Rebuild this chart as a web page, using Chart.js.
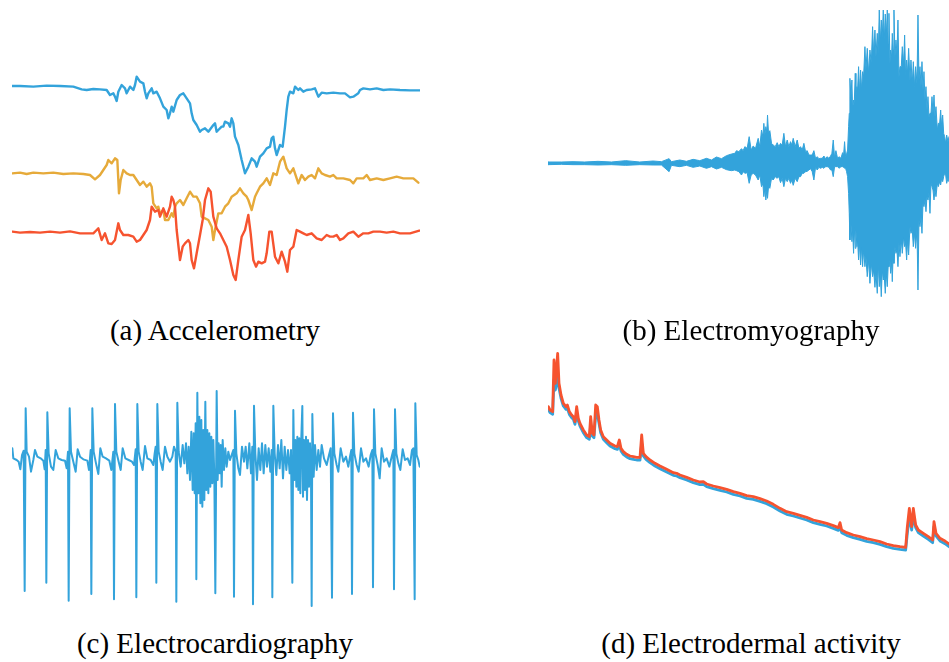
<!DOCTYPE html>
<html>
<head>
<meta charset="utf-8">
<script src="https://cdn.jsdelivr.net/npm/chart.js@4/dist/chart.umd.min.js"></script>
<style>
  html, body { margin: 0; padding: 0; background: #fff; }
  body { width: 949px; height: 662px; position: relative; overflow: hidden; }
  canvas { position: absolute; }
  .cap {
    position: absolute; width: 420px; text-align: center;
    font-family: "Liberation Serif", "Times New Roman", serif;
    font-size: 29px; line-height: 29px; color: #000; white-space: nowrap;
  }
</style>
</head>
<body>
<canvas id="acc" width="408" height="240" style="left:12px;top:60px"></canvas>
<canvas id="emg" width="401" height="310" style="left:548px;top:0px"></canvas>
<canvas id="ecg" width="408" height="225" style="left:12px;top:390px"></canvas>
<canvas id="eda" width="401" height="220" style="left:548px;top:340px"></canvas>

<div class="cap" style="left:5px;top:316px">(a) Accelerometry</div>
<div class="cap" style="left:541px;top:316px">(b) Electromyography</div>
<div class="cap" style="left:5px;top:629px">(c) Electrocardiography</div>
<div class="cap" style="left:541px;top:629px">(d) Electrodermal activity</div>

<script>
// ---- Accelerometry: three axes, [sample, raw counts] ----
const accAxisX = [[0,522],[23,522],[63,520],[103,523],[143,522],[183,520],[208,512],[223,510],[243,513],[263,512],[283,510],[293,495],[303,500],[308,490],[313,477],[318,505],[328,525],[338,515],[343,500],[353,520],[363,510],[368,525],[373,550],[383,535],[393,530],[398,505],[403,485],[408,500],[418,515],[423,500],[433,505],[443,485],[453,460],[463,450],[468,425],[473,440],[478,460],[483,445],[493,480],[503,495],[513,500],[523,485],[533,470],[538,440],[543,420],[553,405],[563,385],[568,390],[578,395],[588,385],[603,405],[608,410],[613,385],[618,390],[628,400],[633,400],[638,415],[648,410],[653,400],[658,425],[663,410],[668,370],[678,345],[688,300],[698,260],[708,280],[718,305],[728,295],[733,280],[743,310],[753,320],[763,335],[773,340],[778,365],[783,370],[788,335],[793,315],[803,345],[811,340],[818,400],[823,450],[828,490],[833,505],[843,500],[848,520],[858,510],[863,515],[873,505],[883,510],[898,512],[908,515],[918,490],[928,502],[943,500],[963,502],[983,500],[998,500],[1013,488],[1023,490],[1038,500],[1043,510],[1053,515],[1073,512],[1093,515],[1113,510],[1133,512],[1163,510],[1193,509],[1223,509]];
const accAxisY = [[0,260],[23,262],[43,258],[63,262],[93,260],[123,262],[153,258],[183,260],[213,258],[233,255],[248,242],[263,255],[273,270],[283,285],[288,300],[298,290],[308,305],[315,300],[320,200],[325,240],[333,270],[343,260],[353,255],[363,255],[373,240],[383,225],[393,235],[403,220],[413,230],[418,220],[423,170],[433,155],[438,160],[443,140],[453,150],[458,120],[468,120],[478,140],[483,130],[488,160],[493,170],[503,180],[513,165],[523,185],[533,205],[543,190],[553,190],[563,170],[568,130],[578,125],[588,120],[598,100],[603,60],[608,90],[618,140],[628,140],[638,160],[648,170],[658,190],[673,200],[683,215],[693,200],[703,190],[708,180],[718,150],[728,190],[733,200],[743,220],[753,230],[763,245],[773,225],[783,260],[793,255],[803,295],[813,310],[823,275],[833,260],[843,275],[853,245],[858,230],[868,255],[878,240],[888,250],[898,255],[908,245],[918,275],[928,260],[938,255],[953,250],[963,255],[973,245],[993,245],[1013,240],[1023,230],[1033,245],[1053,245],[1063,255],[1073,240],[1093,245],[1113,240],[1133,245],[1153,250],[1173,245],[1203,245],[1218,232]];
const accAxisZ = [[0,85],[23,82],[53,84],[83,82],[113,85],[143,82],[173,86],[203,80],[243,80],[253,90],[258,95],[268,60],[278,80],[288,50],[298,48],[308,60],[318,110],[323,90],[333,75],[348,75],[363,70],[373,55],[383,60],[393,75],[403,90],[413,120],[418,160],[428,145],[438,150],[443,130],[453,155],[463,130],[473,160],[478,190],[483,180],[488,160],[493,90],[503,0],[511,40],[518,50],[528,60],[533,50],[538,0],[545,-25],[553,20],[563,75],[571,120],[578,180],[588,215],[595,205],[603,130],[613,95],[623,80],[633,60],[643,40],[653,0],[663,-45],[670,-60],[678,0],[688,70],[698,90],[708,135],[715,80],[723,0],[731,-20],[738,-5],[748,-10],[758,-5],[763,20],[771,85],[778,85],[788,10],[798,-10],[808,25],[818,-5],[825,-35],[833,30],[843,40],[853,90],[863,85],[873,80],[883,75],[898,80],[913,65],[928,60],[943,75],[953,70],[963,70],[973,75],[983,60],[993,65],[1008,80],[1023,85],[1038,70],[1053,80],[1068,80],[1083,85],[1103,85],[1123,82],[1143,85],[1163,80],[1193,80],[1221,88]];

// ---- Electromyography: [sample, bin maximum, bin minimum] in µV ----
const emgEnvelope = [[0,4,-4],[40,4,-3],[75,5,-4],[110,4,-4],[150,6,-5],[190,4,-4],[233,8,-6],[275,4,-4],[315,7,-5],[340,5,-5],[363,14,-25],[370,5,-6],[395,10,-10],[415,6,-6],[435,12,-12],[455,8,-8],[475,15,-15],[490,10,-10],[505,19,-17],[520,14,-12],[535,23,-19],[550,28,-22],[560,30,-20],[565,38,-22],[572,35,-25],[580,44,-35],[585,38,-25],[590,50,-30],[597,45,-28],[603,80,-60],[609,40,-35],[615,52,-30],[622,45,-35],[630,75,-50],[635,50,-35],[640,100,-70],[644,80,-60],[647,120,-100],[650,85,-75],[653,110,-110],[656,95,-80],[658,145,-105],[661,90,-70],[665,98,-75],[670,60,-45],[675,55,-50],[681,50,-40],[687,62,-45],[692,50,-40],[697,60,-58],[702,55,-45],[707,90,-70],[712,50,-45],[717,70,-55],[722,50,-45],[727,65,-60],[731,55,-50],[735,75,-66],[741,50,-45],[747,70,-55],[752,45,-40],[757,50,-40],[762,40,-30],[767,60,-30],[772,35,-25],[777,38,-24],[782,25,-20],[787,25,-16],[792,25,-25],[797,38,-50],[802,15,-12],[807,20,-20],[812,14,-12],[817,15,-15],[822,15,-12],[827,22,-15],[832,14,-10],[837,20,-10],[842,15,-12],[847,22,-20],[851,30,-20],[855,70,-40],[859,18,-10],[863,38,-10],[868,15,-10],[873,20,-15],[878,15,-10],[883,32,-10],[886,25,-12],[889,65,-15],[892,20,-15],[895,28,-25],[898,40,-40],[901,110,-90],[903,150,-150],[905,255,-230],[908,200,-180],[911,250,-235],[913,160,-200],[916,190,-270],[918,180,-190],[921,270,-255],[923,200,-200],[926,230,-250],[928,220,-230],[931,290,-290],[934,210,-240],[937,280,-305],[940,220,-250],[943,275,-310],[946,260,-260],[950,350,-310],[953,280,-280],[957,345,-340],[961,270,-290],[965,340,-360],[969,300,-300],[973,410,-340],[976,330,-320],[980,400,-372],[983,320,-330],[987,390,-390],[990,330,-300],[993,460,-370],[996,360,-330],[999,430,-400],[1002,380,-320],[1005,460,-350],[1008,370,-340],[1011,448,-390],[1014,380,-330],[1017,460,-370],[1020,360,-300],[1022,450,-310],[1025,300,-290],[1027,340,-330],[1030,320,-300],[1032,390,-355],[1035,340,-260],[1037,460,-300],[1040,320,-250],[1043,370,-270],[1046,330,-260],[1049,430,-310],[1052,260,-240],[1055,290,-280],[1059,290,-230],[1062,350,-270],[1066,300,-220],[1069,385,-250],[1072,260,-240],[1075,310,-290],[1078,270,-230],[1081,345,-275],[1085,250,-190],[1088,310,-210],[1092,240,-200],[1095,305,-250],[1099,230,-210],[1102,290,-255],[1106,240,-200],[1109,445,-380],[1112,250,-170],[1115,290,-190],[1118,230,-160],[1121,305,-210],[1124,220,-120],[1127,275,-130],[1130,190,-110],[1133,230,-145],[1136,160,-100],[1139,200,-110],[1142,140,-90],[1145,150,-150],[1148,150,-60],[1151,200,-70],[1154,150,-80],[1157,205,-110],[1160,140,-80],[1163,170,-100],[1167,100,-60],[1170,120,-70],[1174,120,-55],[1177,160,-65],[1180,110,-45],[1183,145,-55],[1186,90,-40],[1189,80,-30],[1192,60,-35],[1195,85,-60],[1199,65,-45],[1202,80,-55]];

// ---- Electrocardiography: [sample, amplitude] ----
const ecgTrace = [[0,30],[3,0],[13,-5],[19,-10],[24,-33],[29,10],[34,23],
  [37,-398],[40,150],[43,20],[50,5],[56,-40],[63,-5],[68,25],[75,5],[85,0],[93,-7],[97,-33],[100,25],
  [102,-373],[105,138],[109,15],[116,-25],[123,-35],[130,25],[138,0],[148,-5],[158,-7],[163,-30],[167,20],
  [169,-427],[172,150],[176,20],[183,-10],[190,-40],[196,27],[203,5],[213,-3],[225,-7],[230,-35],[235,25],
  [237,-407],[240,150],[244,20],[251,-15],[258,-47],[264,30],[271,5],[281,0],[291,-7],[297,-35],[303,20],
  [305,-423],[308,163],[312,20],[319,-10],[325,-35],[331,30],[339,0],[349,-5],[359,-10],[365,-20],[370,27],
  [372,-417],[375,163],[379,20],[385,-10],[391,-35],[398,37],[405,0],[415,-5],[423,-20],[427,15],[430,35],
  [432,-373],[435,163],[439,20],[445,-10],[451,-35],[458,35],[465,5],[473,-10],[480,5],[485,35],[490,20],
  [492,-430],[495,167],[499,20],[505,-25],[511,40],[516,-15],[521,45],[525,-45],[529,35],[533,-65],[537,80],[541,-95],[544,75],[547,-105],[550,105],
  [552,-363],[555,197],[558,-105],[561,125],[564,-135],[567,115],[570,-145],[573,85],[576,-125],[579,170],[582,-95],[585,85],[588,-105],[591,75],[594,-85],[597,65],[600,-75],[603,55],[606,-55],
  [609,-405],[613,202],[616,-65],[619,45],[622,-45],[625,40],[628,-85],[631,55],[635,-35],[639,30],[643,-25],[648,20],[653,-5],[658,10],[663,25],
  [665,-415],[668,143],[672,15],[678,-30],[683,-50],[689,35],[695,-10],[700,35],[705,-30],[711,45],[716,-45],[720,35],
  [722,-438],[725,158],[729,15],[734,-65],[739,30],[744,-35],[749,45],[754,-45],[759,40],[764,-25],[769,30],[774,-40],[778,25],
  [780,-417],[783,158],[787,15],[792,-50],[797,40],[802,-30],[807,55],[812,-60],[817,35],[822,-35],[827,25],[832,-45],[836,25],
  [840,-373],[843,145],[846,-65],[849,55],[852,-85],[855,65],[858,-95],[861,60],[864,-105],[867,65],[870,157],[872,-115],[875,55],[878,-95],[881,65],[884,-125],[887,55],[890,-85],[893,45],[896,-45],
  [898,-443],[900,133],[904,-55],[908,40],[913,-35],[918,25],[923,-25],[928,40],[935,0],[943,-20],[950,10],[955,30],
  [959,-418],[962,135],[966,15],[973,-20],[978,-40],[985,30],[993,-10],[1001,5],[1008,-25],[1013,5],[1017,25],
  [1019,-407],[1022,137],[1026,15],[1033,-20],[1039,-40],[1046,30],[1053,-10],[1061,0],[1069,-25],[1075,10],[1080,25],
  [1082,-387],[1085,147],[1089,15],[1096,-20],[1102,-60],[1108,30],[1115,-10],[1123,0],[1131,-25],[1138,5],[1143,25],
  [1145,-393],[1148,147],[1152,15],[1158,-15],[1164,-35],[1171,27],[1178,-5],[1186,0],[1193,-20],[1199,25],[1203,30],
  [1207,-423],[1209,165],[1213,10],[1218,-5],[1222,-25]];

// ---- Electrodermal activity: two sites, [sample, µS] ----
const edaLeft = [[0,6.00],[5,5.90],[13,5.85],[17,7.40],[21,6.70],[25,7.20],[28,7.60],[32,6.70],[38,6.35],[45,6.10],[53,6.00],[57,6.05],[63,5.85],[70,5.75],[75,5.70],[80,5.55],[85,6.00],[90,5.65],[95,5.50],[105,5.30],[115,5.15],[123,5.10],[127,5.70],[132,5.20],[137,5.15],[142,6.05],[147,6.00],[152,5.60],[157,5.30],[165,5.10],[175,5.00],[185,4.90],[200,4.82],[207,4.80],[213,5.00],[218,4.75],[225,4.65],[235,4.57],[245,4.52],[255,4.50],[265,4.48],[275,4.48],[280,5.15],[285,4.60],[293,4.50],[305,4.40],[320,4.30],[335,4.22],[355,4.12],[375,4.02],[385,4.00],[395,3.95],[415,3.88],[435,3.80],[455,3.74],[465,3.75],[475,3.68],[495,3.62],[515,3.57],[535,3.52],[555,3.45],[575,3.40],[595,3.33],[615,3.30],[635,3.24],[655,3.17],[675,3.07],[695,2.95],[715,2.85],[735,2.80],[755,2.74],[775,2.68],[795,2.60],[815,2.55],[835,2.50],[855,2.43],[870,2.37],[875,2.52],[880,2.30],[895,2.22],[915,2.15],[935,2.10],[955,2.04],[975,2.00],[995,1.95],[1015,1.88],[1035,1.83],[1055,1.80],[1072,1.78],[1077,2.40],[1083,2.95],[1090,2.40],[1095,2.95],[1102,2.45],[1110,2.30],[1125,2.20],[1140,2.10],[1153,2.00],[1157,2.55],[1163,2.20],[1175,2.05],[1190,1.97],[1202,1.88]];
const edaRight = [[0,5.92],[5,5.82],[13,5.77],[17,6.80],[21,6.50],[25,6.70],[28,6.90],[32,6.55],[38,6.25],[45,6.02],[53,5.92],[57,5.95],[63,5.77],[70,5.67],[75,5.62],[80,5.47],[85,5.80],[90,5.57],[95,5.42],[105,5.22],[115,5.07],[123,5.02],[127,5.45],[132,5.12],[137,5.07],[142,5.75],[147,5.80],[152,5.50],[157,5.22],[165,5.02],[175,4.92],[185,4.82],[200,4.74],[207,4.72],[213,4.85],[218,4.67],[225,4.57],[235,4.49],[245,4.44],[255,4.42],[265,4.40],[275,4.40],[280,4.90],[285,4.52],[293,4.42],[305,4.32],[320,4.22],[335,4.14],[355,4.04],[375,3.94],[385,3.92],[395,3.87],[415,3.80],[435,3.72],[455,3.66],[465,3.67],[475,3.60],[495,3.54],[515,3.49],[535,3.44],[555,3.37],[575,3.32],[595,3.25],[615,3.22],[635,3.16],[655,3.09],[675,2.99],[695,2.87],[715,2.77],[735,2.72],[755,2.66],[775,2.60],[795,2.52],[815,2.47],[835,2.42],[855,2.35],[870,2.29],[875,2.40],[880,2.22],[895,2.14],[915,2.07],[935,2.02],[955,1.96],[975,1.92],[995,1.87],[1015,1.80],[1035,1.75],[1055,1.72],[1072,1.70],[1077,2.20],[1083,2.70],[1090,2.30],[1095,2.75],[1102,2.37],[1110,2.22],[1125,2.12],[1140,2.02],[1153,1.92],[1157,2.40],[1163,2.12],[1175,1.97],[1190,1.89],[1202,1.80]];

const BLUE = '#33a3db';
const GOLD = '#e6aa3a';
const RED = '#f6532f';

const pts = (arr, i = 1) => arr.map(p => ({ x: p[0], y: p[i] }));

function lineChart(id, datasets, xr, yr) {
  return new Chart(document.getElementById(id), {
    type: 'line',
    data: { datasets },
    options: {
      responsive: false,
      animation: false,
      events: [],
      devicePixelRatio: 1,
      layout: { padding: 0 },
      plugins: { legend: { display: false }, tooltip: { enabled: false }, title: { display: false } },
      elements: {
        point: { radius: 0 },
        line: { tension: 0, borderJoinStyle: 'round', borderCapStyle: 'round' }
      },
      scales: {
        x: { type: 'linear', display: false, min: xr[0], max: xr[1] },
        y: { type: 'linear', display: false, min: yr[0], max: yr[1] }
      }
    }
  });
}

// (a) accelerometry
lineChart('acc', [
  { data: pts(accAxisZ), borderColor: RED, borderWidth: 2.4, fill: false, order: 0 },
  { data: pts(accAxisY), borderColor: GOLD, borderWidth: 2.4, fill: false, order: 1 },
  { data: pts(accAxisX), borderColor: BLUE, borderWidth: 2.4, fill: false, order: 2 }
], [-1, 1223], [-120, 600]);

// (b) electromyography: band between the per-bin maxima and minima
lineChart('emg', [
  { data: pts(emgEnvelope, 1), borderColor: BLUE, borderWidth: 1, backgroundColor: BLUE, fill: '+1' },
  { data: pts(emgEnvelope, 2), borderColor: BLUE, borderWidth: 1, fill: false }
], [0, 1202], [-440, 490]);

// (c) electrocardiography
lineChart('ecg', [
  { data: pts(ecgTrace), borderColor: BLUE, borderWidth: 2, fill: false }
], [-1, 1223], [-470, 205]);

// (d) electrodermal activity
lineChart('eda', [
  { data: pts(edaLeft), borderColor: RED, borderWidth: 2.8, fill: false, order: 0 },
  { data: pts(edaRight), borderColor: BLUE, borderWidth: 2.8, fill: false, order: 1 }
], [-1, 1202], [1.40, 8.00]);
</script>
</body>
</html>
